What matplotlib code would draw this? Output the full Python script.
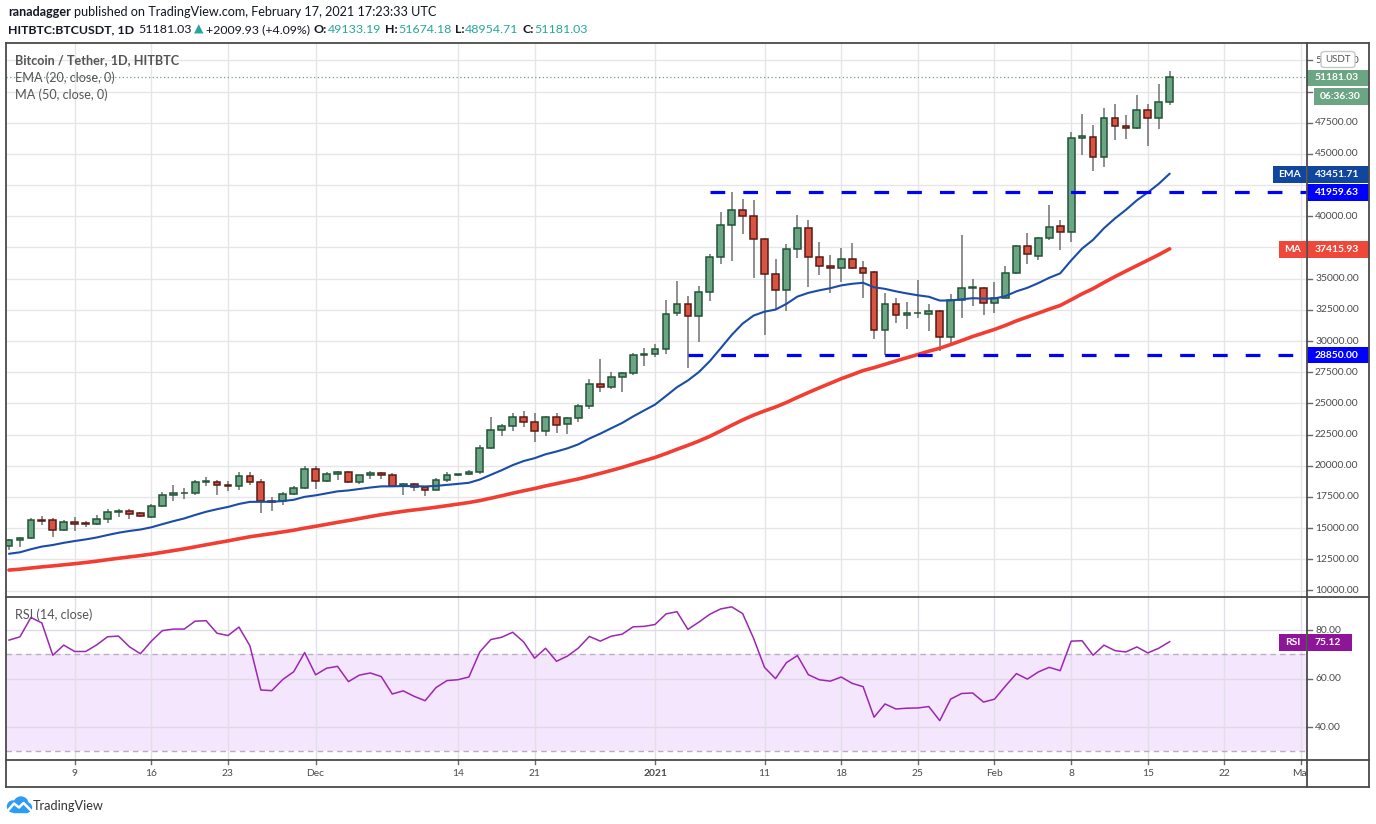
import numpy as np
import pandas as pd
import matplotlib
matplotlib.use("Agg")
import matplotlib.pyplot as plt
from matplotlib.patches import Rectangle, FancyBboxPatch, Circle
from matplotlib.lines import Line2D

FAM = ['Lato', 'DejaVu Sans']
plt.rcParams['font.family'] = FAM

# ---------------- data ----------------
start_date = "2020-11-03"
opens = [13549, 14033, 14194, 15670, 15640, 14839, 15484, 15430, 15323, 15726,
         16317, 16371, 16183, 15914, 16774, 17688, 17796, 17796, 18710, 18710,
         18495, 18414, 19194, 18710, 17178, 17151, 17742, 18226, 19758, 18764,
         19301, 19463, 18737, 19221, 19383, 19221, 18387, 18576, 18307, 18092,
         18871, 19250, 19302, 19463, 21398, 22850, 23172, 23898, 23495, 22769,
         23898, 23334, 23817, 24785, 26560, 26317, 27124, 27446, 28898, 28940,
         29360, 32233, 32951, 31993, 33909, 36702, 39335, 40532, 40053, 38138,
         35345, 34068, 37340, 39096, 36702, 35983, 35824, 36595, 35824, 35505,
         30903, 32951, 32050, 32220, 32198, 32440, 30346, 33326, 34212, 34212,
         33085, 33487, 35420, 37595, 36844, 38240, 39207, 38777, 46268, 46375,
         44764, 47906, 47261, 47073, 48550, 47879, 49133.19]
highs = [14140, 14300, 15807, 15968, 15807, 15645, 15887, 15591, 16076, 16505,
         16505, 16505, 16290, 16935, 17903, 18495, 18226, 18871, 19086, 18871,
         18817, 19462, 19516, 18925, 17527, 17903, 18387, 19946, 19946, 19463,
         19570, 19544, 19275, 19544, 19517, 19436, 18630, 18630, 18415, 19006,
         19517, 19356, 19651, 21640, 23898, 23360, 24248, 24410, 24248, 23950,
         24248, 23870, 24920, 26990, 28522, 27527, 27527, 29060, 29400, 29720,
         33297, 34813, 33616, 34414, 36969, 40319, 41960, 41357, 41277, 38218,
         36569, 37739, 40080, 39681, 37925, 36888, 37446, 37872, 36409, 35638,
         33829, 33456, 33100, 34883, 32950, 32520, 33756, 38508, 34964, 34300,
         34749, 36010, 37702, 38669, 38300, 40925, 39716, 46751, 48174, 47288,
         48658, 48980, 48094, 49705, 48980, 50591, 51674.18]
lows = [13280, 13495, 14100, 15215, 14301, 14731, 14785, 15054, 15269, 15430,
        15914, 15700, 15860, 15807, 16666, 17204, 17312, 17688, 18387, 17635,
        18011, 18065, 18441, 16183, 16398, 16882, 17635, 18172, 18118, 18710,
        18818, 18630, 18576, 18898, 18952, 18280, 17660, 17980, 17580, 18092,
        18710, 19167, 19275, 19302, 21317, 22393, 22823, 23145, 21936, 22420,
        22608, 22581, 23468, 24543, 25883, 26156, 25883, 27312, 28010, 28750,
        28935, 31967, 27844, 29892, 33243, 36197, 36436, 38617, 35079, 30477,
        32579, 32366, 36675, 34361, 35318, 33829, 34759, 35800, 33456, 30158,
        28850, 31408, 30940, 31876, 30800, 29191, 29755, 31876, 32816, 32091,
        32279, 33407, 35339, 36145, 36495, 38106, 37300, 37971, 44872, 43664,
        43932, 46107, 46187, 46966, 45623, 46966, 48954.71]
closes = [14033, 14194, 15645, 15540, 14839, 15484, 15323, 15323, 15726, 16317,
          16371, 16129, 15968, 16774, 17688, 17850, 17850, 18710, 18764, 18468,
          18414, 19194, 18710, 17151, 17124, 17742, 18226, 19758, 18764, 19301,
          19463, 18737, 19221, 19383, 19221, 18387, 18576, 18307, 18092, 18818,
          19248, 19300, 19463, 21398, 22850, 23172, 23898, 23495, 22769, 23898,
          23253, 23817, 24785, 26560, 26317, 27124, 27473, 28898, 28985, 29370,
          32153, 32951, 31993, 33909, 36702, 39335, 40532, 40053, 38138, 35345,
          34068, 37340, 39096, 36702, 36010, 35824, 36595, 35824, 35425, 30903,
          32951, 32100, 32220, 32252, 32440, 30346, 33326, 34212, 34293, 33085,
          33487, 35420, 37595, 36951, 38240, 39126, 38777, 46295, 46456, 44764,
          47906, 47234, 47073, 48550, 47879, 49171, 51181.03]
# closes before the visible range (14 Sep - 2 Nov 2020), used only to warm up the indicators
warmup_closes = [10680, 10790, 10950, 10940, 10930, 11080, 10920, 10420, 10530, 10240,
                 10740, 10690, 10730, 10775, 10700, 10840, 10780,
                 10620, 10570, 10550, 10670, 10790, 10600, 10670, 10920, 11050, 11300,
                 11380, 11540, 11430, 11430, 11500, 11320, 11360, 11500, 11750, 11910,
                 12810, 12990, 12930, 13130, 13030, 13070, 13650, 13280, 13460, 13560,
                 13800, 13760, 13550]

date_ticks = ["2020-11-09", "2020-11-16", "2020-11-23", "2020-12-01", "2020-12-14",
              "2020-12-21", "2021-01-01", "2021-01-11", "2021-01-18", "2021-01-25",
              "2021-02-01", "2021-02-08", "2021-02-15", "2021-02-22", "2021-03-01"]
date_labels = ["9", "16", "23", "Dec", "14", "21", "2021", "11", "18", "25",
               "Feb", "8", "15", "22", "Mar"]
price_grid = list(range(10000, 52501, 2500))
price_labels_shown = [52500, 47500, 45000, 40000, 35000, 32500, 30000, 27500,
                      25000, 22500, 20000, 17500, 15000, 12500, 10000]
rsi_grid = [40, 60, 80]
ema_last_label = 43451.71
ma_last_label = 37415.93
rsi_last_label = 75.12
resistance_level = 41959.63
support_level = 28850.00
resistance_start = "2021-01-06"
support_start = "2021-01-04"

# ---------------- helpers ----------------
W, H = 1376, 824
fig = plt.figure(figsize=(W / 100, H / 100), dpi=100)
fig.patch.set_facecolor("white")
renderer = fig.canvas.get_renderer()


def fx(x):
    return x / W


def fy(y):
    return 1 - y / H


def text_w(s, fs, wt="normal"):
    t = fig.text(0, 0, s, fontsize=fs, fontweight=wt)
    w = t.get_window_extent(renderer).width
    t.remove()
    return w


def fit(s, target, wt="normal", base=10.0):
    return base * target / text_w(s, base, wt)


t0 = pd.Timestamp(start_date)


def didx(d):
    return (pd.Timestamp(d) - t0).days


o = np.array(opens, float)
h = np.array(highs, float)
l = np.array(lows, float)
c = np.array(closes, float)
n = len(c)
idx = np.arange(n)

allc = pd.Series(warmup_closes + closes, dtype=float)
nw = len(warmup_closes)
ema = allc.ewm(span=20, adjust=False).mean().values[nw:]
ma = allc.rolling(50).mean().values[nw:]
delta = allc.diff()
gain = delta.clip(lower=0)
loss = (-delta).clip(lower=0)
ag = gain.ewm(alpha=1 / 14, adjust=False).mean()
al = loss.ewm(alpha=1 / 14, adjust=False).mean()
rsi = (100 - 100 / (1 + ag / al)).values[nw:]

X0 = (6 - 9) / 10.95
X1 = (1307 - 9) / 10.95

GRID = "#E6E6E6"
TXT = "#4A4A4A"
FS_AX = fit("47500.00", 44)
FS_BOX = fit("47500.00", 44, "bold")

# ---------------- main price axes ----------------
ax = fig.add_axes([fx(6), fy(597), (1307 - 6) / W, (597 - 43) / H])
ax.set_xlim(X0, X1)
ax.set_ylim(9479, 53888)
for s in ax.spines.values():
    s.set_visible(False)
ax.set_xticks([])
ax.set_yticks([])
for p in price_grid:
    ax.axhline(p, color=GRID, lw=1, zorder=0)
for d in date_ticks:
    ax.axvline(didx(d), color=GRID, lw=1, zorder=0)

up = c >= o
bb = np.minimum(o, c)
bh = np.abs(c - o)
ax.vlines(idx, l, h, color="#707070", lw=1.1, zorder=2)
ax.bar(idx[up], bh[up], bottom=bb[up], width=0.62, color="#6BA583",
       edgecolor="#225437", linewidth=1.1, zorder=3)
ax.bar(idx[~up], bh[~up], bottom=bb[~up], width=0.62, color="#D75442",
       edgecolor="#5B1A13", linewidth=1.1, zorder=3)

ax.plot(idx, ma, color="#F23D32", lw=2.6, zorder=4, solid_capstyle="round")
ax.plot(idx, ema, color="#1A4CA8", lw=1.5, zorder=4, solid_capstyle="round")

lw_d = 2.3
ax.plot([didx(resistance_start), X1], [resistance_level] * 2, color="#0000FF",
        lw=lw_d, dashes=(10.6 / lw_d, 13.0 / lw_d), zorder=5)
ax.plot([didx(support_start), X1], [support_level] * 2, color="#0000FF",
        lw=lw_d, dashes=(10.6 / lw_d, 13.0 / lw_d), zorder=5)
ax.axhline(c[-1], color="#6BA583", lw=0.9, dashes=(1, 2), zorder=1)

# ---------------- RSI axes ----------------
rax = fig.add_axes([fx(6), fy(760), (1307 - 6) / W, (760 - 597) / H])
rax.set_xlim(X0, X1)
rax.set_ylim(26.5, 93.6)
for s in rax.spines.values():
    s.set_visible(False)
rax.set_xticks([])
rax.set_yticks([])
rax.axhspan(30, 70, color="#F3E6FD", zorder=0, lw=0)
for g in rsi_grid:
    rax.axhline(g, color="#E0DAE6", lw=1, zorder=0.5)
for d in date_ticks:
    rax.axvline(didx(d), color="#E3DFE8", lw=1, zorder=0.5)
rax.axhline(70, color="#B8B0C0", lw=1, dashes=(4, 3), zorder=1)
rax.axhline(30, color="#B8B0C0", lw=1, dashes=(4, 3), zorder=1)
rax.plot(idx, rsi, color="#9C27B0", lw=1.1, zorder=3)

# ---------------- frame lines ----------------
def fline(x0, y0, x1, y1, color="#4A4A4A", lw=1.3, z=10):
    fig.add_artist(Line2D([fx(x0), fx(x1)], [fy(y0), fy(y1)], color=color, lw=lw,
                          transform=fig.transFigure, zorder=z))


fline(6, 43, 1369, 43)
fline(6, 787, 1369, 787)
fline(6, 43, 6, 787)
fline(1369, 43, 1369, 787)
fline(1307, 43, 1307, 787)
fline(6, 597, 1369, 597)
fline(6, 760, 1369, 760)

# price axis ticks + labels
for p in price_grid:
    yp = 341 - (p - 30000) * 0.012474
    fline(1307, yp, 1312, yp, color="#6A6A6A", lw=1, z=6)
for p in price_labels_shown:
    yp = 341 - (p - 30000) * 0.012474
    fig.text(fx(1315), fy(yp), f"{p:.2f}", ha="left", va="center", fontsize=FS_AX,
             color=TXT, zorder=6)
# RSI axis
for g in rsi_grid:
    yr = 760 - (g - 26.5) / (93.6 - 26.5) * 163
    fline(1307, yr, 1312, yr, color="#6A6A6A", lw=1, z=6)
    fig.text(fx(1315), fy(yr), f"{g:.2f}", ha="left", va="center", fontsize=FS_AX,
             color=TXT, zorder=6)


def box(x0, x1, yc, color, text, hgt=16.5, tx=None, z=8):
    fig.add_artist(Rectangle((fx(x0), fy(yc + hgt / 2)), (x1 - x0) / W, hgt / H,
                             transform=fig.transFigure, facecolor=color,
                             edgecolor="none", zorder=z))
    ha = "left"
    if tx is None:
        tx = (x0 + x1) / 2
        ha = "center"
    fig.text(fx(tx), fy(yc), text, ha=ha, va="center", color="white",
             fontsize=FS_BOX, fontweight="bold", zorder=z + 0.5)


# USDT tag
fig.add_artist(FancyBboxPatch((fx(1321), fy(67.5)), 34 / W, 16 / H,
                              boxstyle="round,pad=0,rounding_size=0.003",
                              transform=fig.transFigure, facecolor="white",
                              edgecolor="#C8C8C8", lw=1, zorder=8))
fig.text(fx(1338), fy(59.5), "USDT", ha="center", va="center", fontsize=FS_AX * 0.95,
         color="#555555", zorder=9)

box(1307, 1369, 77.8, "#6BA583", f"{c[-1]:.2f}", tx=1315)
box(1314, 1369, 96.5, "#6BA583", "06:36:30", tx=1320)
box(1273, 1306, 174.3, "#11469E", "EMA")
box(1307, 1369, 174.3, "#11469E", f"{ema_last_label:.2f}", tx=1315)
box(1307, 1369, 192.3, "#0000FF", f"{resistance_level:.2f}", tx=1315)
box(1279, 1306, 249.6, "#F0473B", "MA")
box(1307, 1369, 249.6, "#F0473B", f"{ma_last_label:.2f}", tx=1315)
box(1307, 1369, 355, "#0000FF", f"{support_level:.2f}", tx=1315)
box(1279, 1306, 642.5, "#8E1599", "RSI")
box(1307, 1352, 642.5, "#8E1599", f"{rsi_last_label:.2f}", tx=1315)

# date labels + small ticks
for d, lab in zip(date_ticks, date_labels):
    xd = 9 + 10.95 * didx(d)
    fline(xd, 760, xd, 764, color="#6A6A6A", lw=1, z=6)
    fig.text(fx(xd), fy(774), lab, ha="center", va="center", fontsize=FS_AX,
             color=TXT, fontweight="bold" if lab == "2021" else "normal", zorder=6)
fig.add_artist(Rectangle((fx(1308), fy(786)), 60 / W, 25 / H, transform=fig.transFigure,
                         facecolor="white", edgecolor="none", zorder=7))

# legends inside panes
FS_LEG = fit("EMA (20, close, 0)", 100)
fig.text(fx(15), fy(60), "Bitcoin / Tether, 1D, HITBTC", ha="left", va="center",
         fontsize=fit("Bitcoin / Tether, 1D, HITBTC", 164, "bold"), color="#555555",
         fontweight="bold", zorder=6)
fig.text(fx(15), fy(77.5), "EMA (20, close, 0)", ha="left", va="center",
         fontsize=FS_LEG, color="#555555", zorder=6)
fig.text(fx(15), fy(95), "MA (50, close, 0)", ha="left", va="center",
         fontsize=FS_LEG, color="#555555", zorder=6)
fig.text(fx(15), fy(615), "RSI (14, close)", ha="left", va="center",
         fontsize=FS_LEG, color="#555555", zorder=6)

# header
TEAL = "#26A69A"
DK = "#131722"


def chain(x, y, parts, target):
    base = 10.0
    total = 0.0
    for s, col, wt, gap in parts:
        total += text_w(s, base, wt) + gap * base * 100 / 72
    fs = base * target / total
    for s, col, wt, gap in parts:
        t = fig.text(fx(x), fy(y), s, ha="left", va="center", fontsize=fs,
                     color=col, fontweight=wt, zorder=6)
        x += t.get_window_extent(renderer).width + gap * fs * 100 / 72


chain(8, 12.5, [("ranadagger", DK, "bold", 0.25),
                ("published on TradingView.com, February 17, 2021 17:23:33 UTC", DK, "normal", 0)],
      429)
chain(8, 29.5, [("HITBTC:BTCUSDT, 1D", DK, "bold", 0.3),
                (f"{c[-1]:.2f}", DK, "normal", 0.2),
                ("\u25B2", TEAL, "normal", 0.2),
                ("+2009.93 (+4.09%)", DK, "normal", 0.3),
                ("O:", DK, "bold", 0.05), (f"{o[-1]:.2f}", TEAL, "normal", 0.3),
                ("H:", DK, "bold", 0.05), (f"{h[-1]:.2f}", TEAL, "normal", 0.3),
                ("L:", DK, "bold", 0.05), (f"{l[-1]:.2f}", TEAL, "normal", 0.3),
                ("C:", DK, "bold", 0.05), (f"{c[-1]:.2f}", TEAL, "normal", 0)],
      581)

# TradingView logo
lax = fig.add_axes([fx(5), fy(814), 28 / W, 18 / H])
lax.set_xlim(0, 28)
lax.set_ylim(0, 18)
lax.axis("off")
blue = "#2E9CF3"
lax.add_patch(Circle((8, 7.5), 5.5, color=blue))
lax.add_patch(Circle((16, 10), 7, color=blue))
lax.add_patch(Circle((22, 6.5), 4.5, color=blue))
lax.add_patch(Rectangle((8, 2), 14, 6, color=blue))
lax.plot([2.5, 9, 14, 18.5, 26], [3, 10.5, 6.5, 11, 3.5], color="white", lw=1.8,
         solid_joinstyle="round")
fig.text(fx(33), fy(805.5), "TradingView", ha="left", va="center",
         fontsize=fit("TradingView", 71), color="#333333", zorder=6)

fig.savefig("out.png", dpi=100, facecolor="white")
